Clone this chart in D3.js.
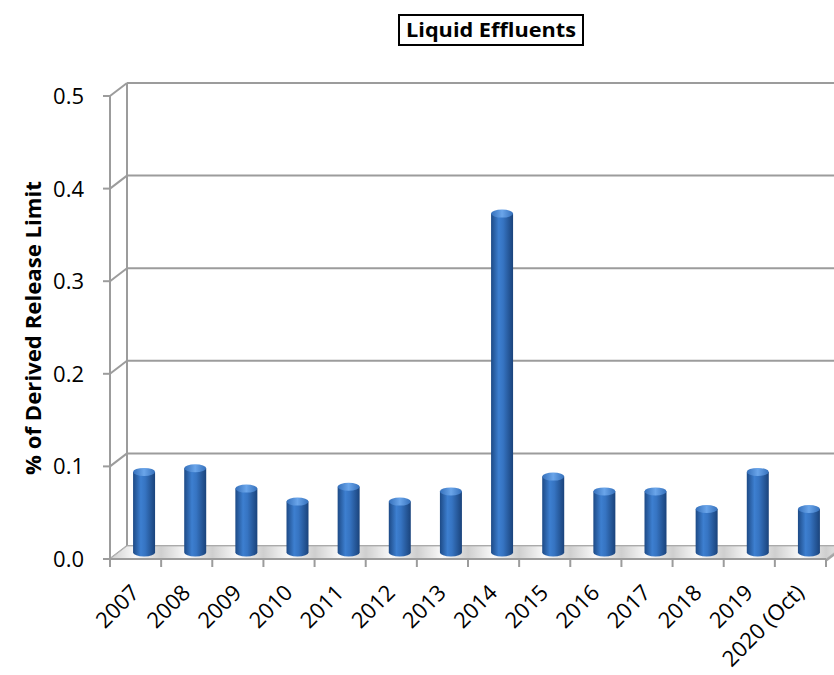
<!DOCTYPE html>
<html>
<head>
<meta charset="utf-8">
<script src="https://cdn.jsdelivr.net/npm/d3@7"></script>
<style>
  body { margin: 0; background: #fff; }
  text { font-family: "Open Sans", sans-serif; fill: #000; }
</style>
</head>
<body>
<script>
// chart data
var years = ["2007", "2008", "2009", "2010", "2011", "2012", "2013",
             "2014", "2015", "2016", "2017", "2018", "2019", "2020 (Oct)"];
var pctDRL = [0.087, 0.091, 0.069, 0.055, 0.071, 0.055, 0.066,
              0.366, 0.082, 0.066, 0.066, 0.047, 0.087, 0.047];
var yTicks = [0.0, 0.1, 0.2, 0.3, 0.4, 0.5];

var width = 834, height = 675;
// fake 3d depth offset
var dx = 17, dy = -13;

var svg = d3.select("body").append("svg")
    .attr("width", width)
    .attr("height", height);

var defs = svg.append("defs");

var cyl = defs.append("linearGradient").attr("id", "cyl")
    .attr("x1", "0%").attr("x2", "100%");
cyl.append("stop").attr("offset", "0%").attr("stop-color", "#1d4a86");
cyl.append("stop").attr("offset", "35%").attr("stop-color", "#3d7fd0");
cyl.append("stop").attr("offset", "55%").attr("stop-color", "#3674c2");
cyl.append("stop").attr("offset", "100%").attr("stop-color", "#1a437b");

var capG = defs.append("linearGradient").attr("id", "cap")
    .attr("x1", "0%").attr("x2", "100%");
capG.append("stop").attr("offset", "0%").attr("stop-color", "#3570bb");
capG.append("stop").attr("offset", "50%").attr("stop-color", "#6aa5ea");
capG.append("stop").attr("offset", "100%").attr("stop-color", "#3570bb");

var floorG = defs.append("pattern").attr("id", "floor")
    .attr("patternUnits", "userSpaceOnUse")
    .attr("width", 51.14).attr("height", 20)
    .attr("x", 110);
var fg = defs.append("linearGradient").attr("id", "floorstripe")
    .attr("x1", "0%").attr("x2", "100%").attr("y1", "0%").attr("y2", "0%");
fg.append("stop").attr("offset", "0%").attr("stop-color", "#cfcfcf");
fg.append("stop").attr("offset", "50%").attr("stop-color", "#fafafa");
fg.append("stop").attr("offset", "100%").attr("stop-color", "#cfcfcf");
floorG.append("rect").attr("width", 51.14).attr("height", 20)
    .attr("fill", "url(#floorstripe)");

// scales
var x = d3.scaleBand().domain(years).range([110, 826]).padding(0);
var y = d3.scaleLinear().domain([0, 0.5]).range([559, 96]);

// back wall gridlines
svg.append("g").selectAll("line")
    .data(yTicks)
  .enter().append("line")
    .attr("x1", 110 + dx).attr("x2", width)
    .attr("y1", function(d) { return y(d) + dy; })
    .attr("y2", function(d) { return y(d) + dy; })
    .attr("stroke", "#9c9c9c").attr("stroke-width", 2);

// side wall diagonals
svg.append("g").selectAll("line")
    .data(yTicks)
  .enter().append("line")
    .attr("x1", 110).attr("x2", 110 + dx)
    .attr("y1", function(d) { return y(d); })
    .attr("y2", function(d) { return y(d) + dy; })
    .attr("stroke", "#9c9c9c").attr("stroke-width", 2);

svg.append("line")
    .attr("x1", 110 + dx).attr("x2", 110 + dx)
    .attr("y1", y(0.5) + dy).attr("y2", y(0) + dy)
    .attr("stroke", "#9c9c9c").attr("stroke-width", 2);

// floor
var fx0 = 110, fx1 = 826;
svg.append("path")
    .attr("d", "M" + fx0 + "," + y(0) + "L" + (fx0 + dx) + "," + (y(0) + dy) +
               "L" + (fx1 + dx) + "," + (y(0) + dy) + "L" + fx1 + "," + y(0) + "Z")
    .attr("fill", "url(#floor)")
    .attr("stroke", "#b8b8b8").attr("stroke-width", 1);
svg.append("path")
    .attr("d", "M" + fx1 + "," + y(0) + "L" + (fx1 + dx) + "," + (y(0) + dy) +
               "L" + (fx1 + dx) + "," + (y(0) + dy + 3) + "L" + fx1 + "," + (y(0) + 3) + "Z")
    .attr("fill", "#a5a5a5");

// front y axis
svg.append("line")
    .attr("x1", 110).attr("x2", 110)
    .attr("y1", y(0.5)).attr("y2", y(0))
    .attr("stroke", "#9c9c9c").attr("stroke-width", 2);
svg.append("g").selectAll("line")
    .data(yTicks)
  .enter().append("line")
    .attr("x1", 103).attr("x2", 110)
    .attr("y1", function(d) { return y(d); })
    .attr("y2", function(d) { return y(d); })
    .attr("stroke", "#9c9c9c").attr("stroke-width", 2);
svg.append("g").selectAll("text")
    .data(yTicks)
  .enter().append("text")
    .attr("x", 84).attr("y", function(d) { return y(d) + 8; })
    .attr("text-anchor", "end")
    .style("font-size", "22px")
    .text(function(d) { return d.toFixed(1); });

// front x axis
svg.append("line")
    .attr("x1", 110).attr("x2", fx1)
    .attr("y1", y(0)).attr("y2", y(0))
    .attr("stroke", "#9c9c9c").attr("stroke-width", 2);
svg.append("g").selectAll("line")
    .data(years.concat(["end"]))
  .enter().append("line")
    .attr("x1", function(d, i) { return 110 + i * x.step(); })
    .attr("x2", function(d, i) { return 110 + i * x.step(); })
    .attr("y1", y(0)).attr("y2", y(0) + 8)
    .attr("stroke", "#9c9c9c").attr("stroke-width", 2);
svg.append("g").selectAll("text")
    .data(years)
  .enter().append("text")
    .attr("transform", function(d) {
      return "translate(" + (x(d) + x.bandwidth() / 2 + 5) + "," + (y(0) + 35) + ") rotate(-45)";
    })
    .attr("text-anchor", "end")
    .style("font-size", "22px")
    .text(function(d) { return d; });

// cylinders
var bw = 22, ry = 4;
var bars = svg.append("g").selectAll("g")
    .data(years)
  .enter().append("g");
bars.append("path")
    .attr("d", function(d, i) {
      var cx = x(d) + x.bandwidth() / 2 + dx / 2;
      var yb = y(0) + dy / 2, yt = y(pctDRL[i]) + dy / 2;
      return "M" + (cx - bw / 2) + "," + yt +
             "L" + (cx - bw / 2) + "," + yb +
             "A" + (bw / 2) + "," + ry + " 0 0 0 " + (cx + bw / 2) + "," + yb +
             "L" + (cx + bw / 2) + "," + yt + "Z";
    })
    .attr("fill", "url(#cyl)");
bars.append("ellipse")
    .attr("cx", function(d) { return x(d) + x.bandwidth() / 2 + dx / 2; })
    .attr("cy", function(d, i) { return y(pctDRL[i]) + dy / 2; })
    .attr("rx", bw / 2).attr("ry", ry)
    .attr("fill", "url(#cap)");

// axis title
svg.append("text")
    .attr("transform", "translate(41,328) rotate(-90)")
    .attr("text-anchor", "middle")
    .style("font-size", "22px").style("font-weight", "bold")
    .attr("textLength", 294).attr("lengthAdjust", "spacingAndGlyphs")
    .text("% of Derived Release Limit");

// chart title in a box
svg.append("rect")
    .attr("x", 399).attr("y", 15)
    .attr("width", 184).attr("height", 30)
    .attr("fill", "#fff").attr("stroke", "#000").attr("stroke-width", 2);
svg.append("text")
    .attr("x", 491).attr("y", 37)
    .attr("text-anchor", "middle")
    .style("font-size", "19px").style("font-weight", "bold")
    .attr("textLength", 170).attr("lengthAdjust", "spacingAndGlyphs")
    .text("Liquid Effluents");
</script>
</body>
</html>
